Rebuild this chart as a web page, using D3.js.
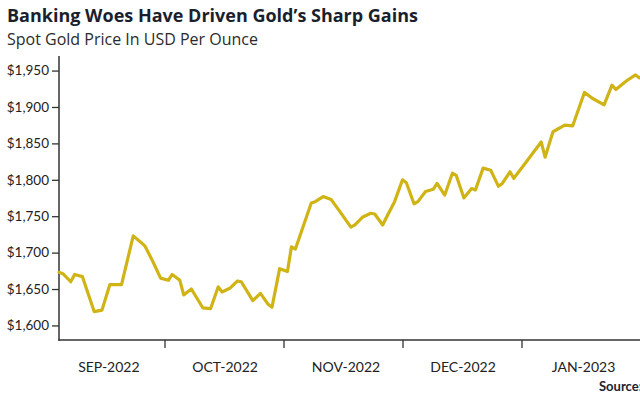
<!DOCTYPE html>
<html>
<head>
<meta charset="utf-8">
<script src="https://cdn.jsdelivr.net/npm/d3@7"></script>
<style>
  html, body { margin: 0; padding: 0; background: #ffffff; overflow: hidden; }
  svg { display: block; }
</style>
</head>
<body>
<svg id="chart" width="640" height="402"></svg>
<script>
// ---- data ----
const dates = [
  "2022-09-04","2022-09-05","2022-09-07","2022-09-08","2022-09-10","2022-09-13","2022-09-15","2022-09-17",
  "2022-09-20","2022-09-23","2022-09-25","2022-09-26","2022-09-28","2022-09-30","2022-10-02","2022-10-03",
  "2022-10-05","2022-10-06","2022-10-08","2022-10-11","2022-10-13","2022-10-15","2022-10-16","2022-10-18",
  "2022-10-20","2022-10-21","2022-10-24","2022-10-26","2022-10-28","2022-10-29","2022-10-31","2022-11-02",
  "2022-11-03","2022-11-04","2022-11-08","2022-11-09","2022-11-11","2022-11-13","2022-11-15","2022-11-18",
  "2022-11-19","2022-11-21","2022-11-23","2022-11-24","2022-11-26","2022-11-27","2022-11-29","2022-12-01",
  "2022-12-02","2022-12-04","2022-12-05","2022-12-07","2022-12-09","2022-12-10","2022-12-12","2022-12-14",
  "2022-12-15","2022-12-17","2022-12-19","2022-12-20","2022-12-22","2022-12-24","2022-12-26","2022-12-27",
  "2022-12-29","2022-12-30","2023-01-02","2023-01-06","2023-01-07","2023-01-09","2023-01-12","2023-01-14",
  "2023-01-17","2023-01-19","2023-01-22","2023-01-24","2023-01-25","2023-01-27","2023-01-28","2023-01-30",
  "2023-01-31"
];
const prices = [
  1673,1671,1660,1670,1667,1619,1621,1656,
  1656,1723,1714,1709,1688,1665,1662,1670,
  1662,1642,1650,1624,1623,1653,1646,1651,
  1661,1660,1634,1644,1629,1625,1678,1674,
  1708,1705,1768,1770,1777,1773,1758,1735,
  1738,1749,1754,1753,1738,1749,1770,1800,
  1796,1767,1770,1784,1787,1795,1779,1809,
  1806,1775,1788,1786,1816,1813,1791,1795,
  1811,1802,1823,1852,1831,1866,1875,1874,
  1920,1912,1903,1930,1924,1933,1937,1944,
  1940
];
const yTicks = [1600, 1650, 1700, 1750, 1800, 1850, 1900, 1950];
const monthStarts = ["2022-10-01","2022-11-01","2022-12-01","2023-01-01"];
const monthLabels = ["SEP-2022","OCT-2022","NOV-2022","DEC-2022","JAN-2023"];
const monthMids = ["2022-09-16","2022-10-16","2022-11-16","2022-12-16","2023-01-16"];
const titleText = "Banking Woes Have Driven Gold\u2019s Sharp Gains";
const subtitleText = "Spot Gold Price In USD Per Ounce";
const sourceText = "Source: Bloomberg, U.S. Global Investors";

// ---- setup ----
const parse = d3.utcParse("%Y-%m-%d");
const data = dates.map((d, i) => ({ date: parse(d), value: prices[i] }));

const svg = d3.select("#chart");
const FONT = "Lato, 'Open Sans', sans-serif";
const TFONT = "'Open Sans', Lato, sans-serif";

const x = d3.scaleUtc()
  .domain(["2022-09-04","2022-10-01","2022-11-01","2022-12-01","2023-01-01","2023-01-31"].map(parse))
  .range([59, 164.5, 283.5, 402.5, 521.5, 639.5]);

const y = d3.scaleLinear().domain([1580, 1970]).range([340, 56]);

// title
svg.append("text")
  .attr("x", 7).attr("y", 22)
  .attr("font-family", TFONT).attr("font-weight", 700).attr("font-size", 17)
  .attr("textLength", 411).attr("lengthAdjust", "spacingAndGlyphs")
  .attr("fill", "#1a1f2d")
  .text(titleText);

svg.append("text")
  .attr("x", 7).attr("y", 45)
  .attr("font-family", TFONT).attr("font-size", 15.5)
  .attr("textLength", 251).attr("lengthAdjust", "spacingAndGlyphs")
  .attr("fill", "#2b2b2b")
  .text(subtitleText);

// y axis
const yAxis = d3.axisLeft(y)
  .tickValues(yTicks)
  .tickSize(7)
  .tickPadding(3)
  .tickFormat(d => "$" + d3.format(",")(d));

const gy = svg.append("g").attr("transform", "translate(59,0)").call(yAxis);
gy.select(".domain").remove();
gy.selectAll(".tick line").attr("stroke", "#333").attr("stroke-width", 1.3);
gy.selectAll(".tick text")
  .attr("font-family", FONT).attr("font-size", 13.5).attr("fill", "#222");

svg.append("line")
  .attr("x1", 59).attr("x2", 59).attr("y1", 56).attr("y2", 340.7)
  .attr("stroke", "#333").attr("stroke-width", 1.5);

// x axis
const xAxis = d3.axisBottom(x)
  .tickValues(monthStarts.map(parse))
  .tickSize(8)
  .tickFormat("");
const gx = svg.append("g").attr("transform", "translate(0,340)").call(xAxis);
gx.select(".domain").remove();
gx.selectAll(".tick line").attr("stroke", "#333").attr("stroke-width", 1.3);

svg.append("line")
  .attr("x1", 58.3).attr("x2", 640).attr("y1", 340).attr("y2", 340)
  .attr("stroke", "#333").attr("stroke-width", 1.5);

svg.append("g").selectAll("text")
  .data(monthLabels)
  .join("text")
  .attr("x", (d, i) => x(parse(monthMids[i])) + 3)
  .attr("y", 372)
  .attr("text-anchor", "middle")
  .attr("font-family", FONT).attr("font-size", 14).attr("fill", "#222")
  .text(d => d);

// line
const line = d3.line()
  .x(d => x(d.date))
  .y(d => y(d.value));

svg.append("path")
  .datum(data)
  .attr("fill", "none")
  .attr("stroke", "#d0b416")
  .attr("stroke-width", 3.2)
  .attr("stroke-linejoin", "round")
  .attr("stroke-linecap", "round")
  .attr("d", line);

// source (clipped at right edge as in the original)
svg.append("text")
  .attr("x", 599).attr("y", 391)
  .attr("font-family", FONT).attr("font-weight", 700).attr("font-size", 13)
  .attr("fill", "#1b2230")
  .text(sourceText);
</script>
</body>
</html>
